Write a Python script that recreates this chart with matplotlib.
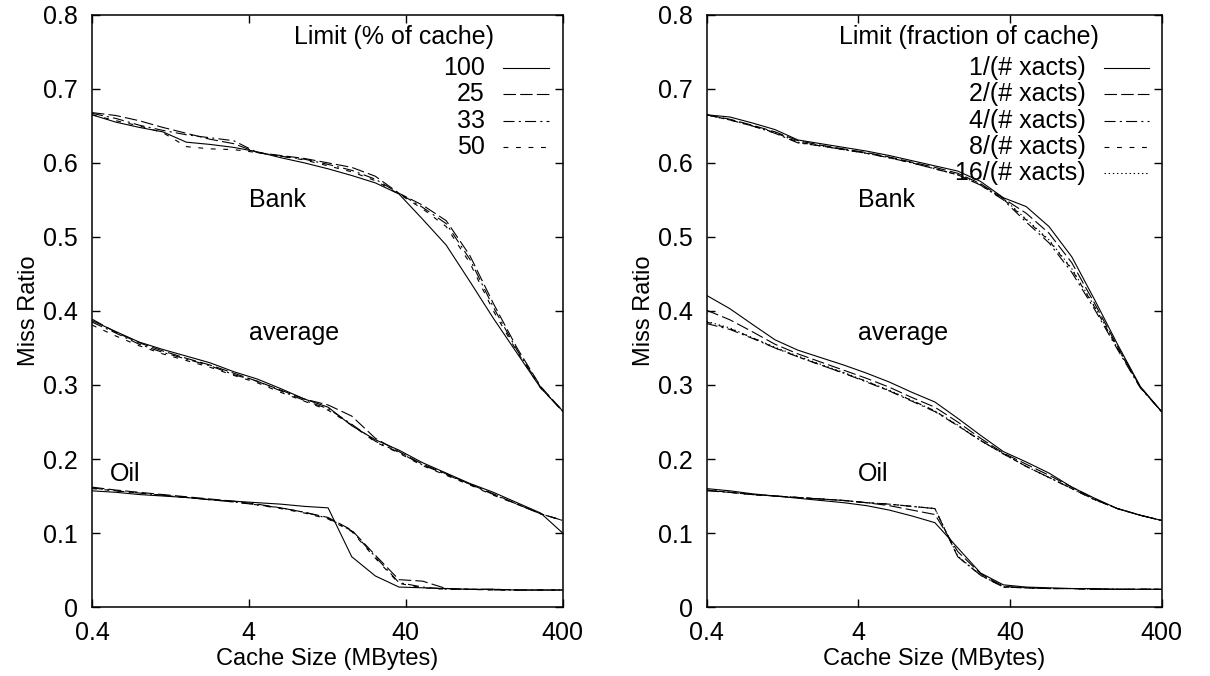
import matplotlib
matplotlib.use("Agg")
import matplotlib.pyplot as plt
from matplotlib.ticker import FixedLocator, FixedFormatter, NullLocator

plt.rcParams['font.family'] = ['Liberation Sans', 'DejaVu Sans']
plt.rcParams['font.size'] = 17
plt.rcParams['lines.scale_dashes'] = False

# cache sizes (MBytes), sqrt(2) steps
sizes = [0.4, 0.57, 0.8, 1.13, 1.6, 2.26, 3.2, 4.53, 6.4, 9.05, 12.8,
         18.1, 25.6, 36.2, 51.2, 72.4, 102.4, 144.8, 204.8, 289.6, 400]

# ---- left panel: limit as % of cache ----
pct_labels = ['100', '25', '33', '50']

bank_100 = [.665, .655, .648, .642, .628, .625, .621, .615, .607, .600, .592, .583, .573, .558, .524, .489, .440, .390, .343, .296, .265]
bank_25 = [.668, .664, .657, .648, .640, .632, .626, .614, .610, .606, .600, .594, .582, .559, .543, .522, .475, .410, .350, .298, .265]
bank_33 = [.667, .660, .651, .644, .638, .634, .630, .614, .609, .605, .598, .590, .578, .559, .540, .518, .470, .405, .347, .297, .264]
bank_50 = [.665, .657, .650, .641, .622, .619, .618, .614, .609, .604, .596, .588, .576, .558, .538, .514, .465, .400, .345, .296, .265]

avg_100 = [.387, .372, .358, .348, .339, .330, .318, .308, .295, .281, .270, .245, .226, .212, .195, .181, .167, .155, .141, .127, .100]
avg_25 = [.389, .371, .357, .346, .336, .327, .316, .305, .293, .281, .273, .258, .228, .210, .193, .180, .166, .153, .139, .126, .117]
avg_33 = [.385, .370, .355, .344, .335, .326, .314, .305, .292, .279, .268, .247, .224, .209, .192, .179, .166, .152, .139, .126, .117]
avg_50 = [.381, .366, .353, .342, .333, .324, .313, .303, .290, .278, .266, .246, .223, .208, .191, .178, .165, .151, .139, .126, .117]

oil_100 = [.157, .155, .152, .150, .148, .145, .143, .141, .139, .136, .134, .068, .042, .027, .026, .025, .024, .024, .023, .023, .023]
oil_25 = [.162, .158, .155, .152, .149, .146, .143, .139, .134, .128, .121, .104, .070, .037, .035, .025, .024, .024, .023, .023, .023]
oil_33 = [.161, .157, .154, .151, .148, .145, .142, .138, .134, .128, .120, .103, .068, .033, .027, .024, .024, .023, .023, .023, .023]
oil_50 = [.160, .157, .154, .151, .148, .145, .142, .138, .133, .127, .119, .102, .066, .032, .026, .024, .024, .023, .023, .023, .023]

# ---- right panel: limit as fraction of cache ----
frac_labels = ['1/(# xacts)', '2/(# xacts)', '4/(# xacts)', '8/(# xacts)', '16/(# xacts)']

rbank_1 = [.665, .662, .654, .645, .631, .626, .621, .616, .610, .603, .596, .589, .575, .553, .541, .514, .473, .415, .355, .298, .264]
rbank_2 = [.665, .659, .651, .642, .630, .624, .619, .614, .608, .601, .594, .586, .572, .552, .532, .505, .465, .410, .352, .297, .264]
rbank_4 = [.665, .658, .650, .640, .627, .623, .618, .613, .607, .600, .592, .584, .570, .550, .520, .492, .452, .402, .348, .296, .264]
rbank_8 = [.665, .658, .650, .641, .628, .623, .618, .613, .607, .600, .592, .584, .570, .551, .523, .495, .456, .405, .350, .297, .264]
rbank_16 = [.665, .658, .650, .641, .628, .623, .618, .613, .607, .600, .592, .584, .571, .552, .524, .496, .457, .406, .350, .297, .264]

ravg_1 = [.421, .403, .382, .361, .347, .337, .327, .316, .304, .290, .277, .255, .232, .210, .196, .181, .162, .147, .133, .124, .117]
ravg_2 = [.401, .388, .372, .355, .342, .331, .320, .309, .297, .283, .270, .250, .228, .208, .193, .178, .162, .146, .133, .124, .117]
ravg_4 = [.383, .375, .363, .350, .338, .327, .316, .304, .292, .278, .264, .245, .225, .207, .190, .175, .160, .145, .133, .124, .117]
ravg_8 = [.385, .376, .364, .350, .338, .327, .316, .305, .292, .279, .265, .245, .225, .207, .190, .175, .160, .145, .133, .124, .117]
ravg_16 = [.386, .377, .364, .351, .339, .328, .317, .305, .293, .279, .265, .246, .225, .207, .190, .175, .160, .145, .133, .124, .117]

roil_1 = [.160, .157, .153, .150, .147, .144, .141, .137, .131, .123, .114, .080, .046, .030, .027, .026, .025, .025, .024, .024, .024]
roil_2 = [.157, .155, .152, .150, .148, .146, .144, .141, .137, .131, .125, .075, .045, .028, .026, .025, .025, .024, .024, .024, .024]
roil_4 = [.158, .155, .152, .150, .148, .146, .144, .141, .139, .136, .133, .068, .043, .027, .026, .025, .025, .024, .024, .024, .024]
roil_8 = [.158, .155, .152, .150, .148, .146, .144, .141, .139, .136, .133, .068, .043, .027, .026, .025, .025, .024, .024, .024, .024]
roil_16 = [.158, .155, .152, .150, .148, .146, .144, .141, .139, .136, .133, .069, .043, .027, .026, .025, .025, .024, .024, .024, .024]

x_ticks = [0.4, 4, 40, 400]
x_ticklabels = ['0.4', '4', '40', '400']
y_ticks = [0, 0.1, 0.2, 0.3, 0.4, 0.5, 0.6, 0.7, 0.8]
y_ticklabels = ['0', '0.1', '0.2', '0.3', '0.4', '0.5', '0.6', '0.7', '0.8']

# gnuplot-ish line types: solid, long dash, dash-dot, short dash, dotted
line_styles = ['-', (0, (9, 3)), (0, (8, 3, 1.5, 3)), (0, (3.5, 5.5)), (0, (1, 2))]

TXT = 18


def setup_axes(ax):
    ax.set_xscale('log')
    ax.set_xlim(0.4, 400)
    ax.set_ylim(0, 0.8)
    ax.xaxis.set_major_locator(FixedLocator(x_ticks))
    ax.xaxis.set_major_formatter(FixedFormatter(x_ticklabels))
    ax.xaxis.set_minor_locator(NullLocator())
    ax.yaxis.set_major_locator(FixedLocator(y_ticks))
    ax.yaxis.set_major_formatter(FixedFormatter(y_ticklabels))
    ax.tick_params(direction='in', length=6, width=1, top=True, right=True,
                   pad=10, labelsize=TXT)
    for sp in ax.spines.values():
        sp.set_linewidth(1.1)
    ax.set_xlabel('Cache Size (MBytes)', fontsize=17, labelpad=2)
    ax.set_ylabel('Miss Ratio', fontsize=17, labelpad=2)


def draw_key(ax, title, labels, title_x):
    ax.text(title_x, 0.963, title, transform=ax.transAxes, ha='center', va='center', fontsize=TXT)
    for i, (lab, ls) in enumerate(zip(labels, line_styles)):
        yy = 0.910 - i * 0.0444
        ax.text(0.834, yy, lab, transform=ax.transAxes, ha='right', va='center', fontsize=TXT)
        ax.plot([0.873, 0.972], [yy, yy], transform=ax.transAxes, color='black', lw=0.8, ls=ls)


fig = plt.figure(figsize=(12.1, 6.76), dpi=100)
ax1 = fig.add_axes([0.076, 0.102, 0.389, 0.876])
ax2 = fig.add_axes([0.584, 0.102, 0.376, 0.876])

left_groups = [[bank_100, bank_25, bank_33, bank_50],
               [avg_100, avg_25, avg_33, avg_50],
               [oil_100, oil_25, oil_33, oil_50]]
right_groups = [[rbank_1, rbank_2, rbank_4, rbank_8, rbank_16],
                [ravg_1, ravg_2, ravg_4, ravg_8, ravg_16],
                [roil_1, roil_2, roil_4, roil_8, roil_16]]

for ax, groups in [(ax1, left_groups), (ax2, right_groups)]:
    setup_axes(ax)
    for group in groups:
        for vals, ls in zip(group, line_styles):
            ax.plot(sizes, vals, color='black', lw=0.8, ls=ls)

draw_key(ax1, 'Limit (% of cache)', pct_labels, 0.641)
draw_key(ax2, 'Limit (fraction of cache)', frac_labels, 0.576)

ax1.text(4, 0.55, 'Bank', ha='left', va='center', fontsize=TXT)
ax1.text(4, 0.37, 'average', ha='left', va='center', fontsize=TXT)
ax1.text(0.52, 0.18, 'Oil', ha='left', va='center', fontsize=TXT)
ax2.text(4, 0.55, 'Bank', ha='left', va='center', fontsize=TXT)
ax2.text(4, 0.37, 'average', ha='left', va='center', fontsize=TXT)
ax2.text(4, 0.18, 'Oil', ha='left', va='center', fontsize=TXT)

fig.savefig('out.png', dpi=100)
